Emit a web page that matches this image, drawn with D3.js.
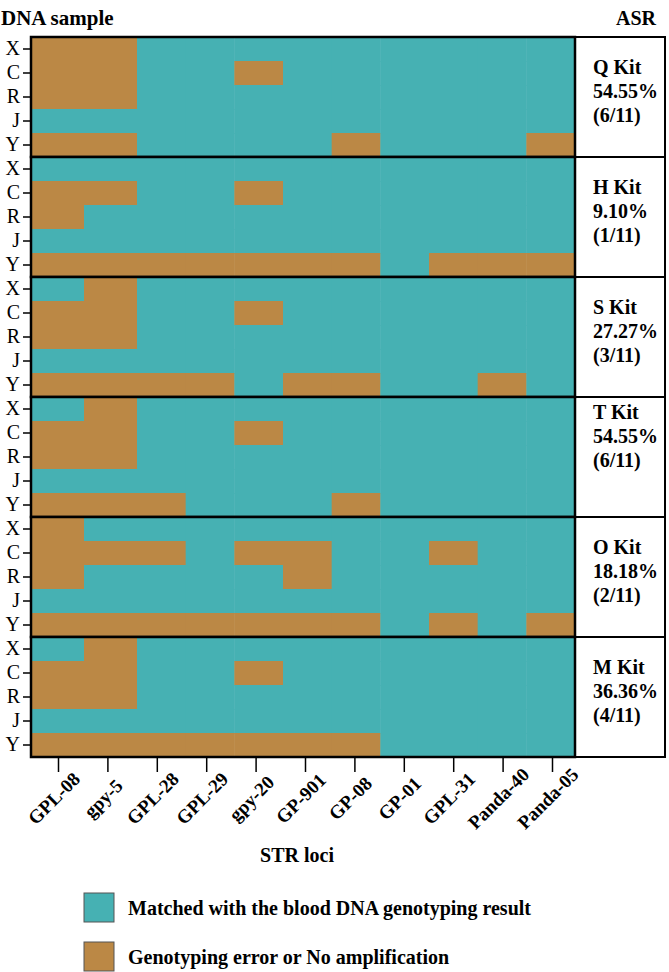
<!DOCTYPE html>
<html>
<head>
<meta charset="utf-8">
<script src="https://cdn.jsdelivr.net/npm/d3@7"></script>
<style>
  body { margin: 0; background: #fff; }
  text { font-family: "Liberation Serif", "Times New Roman", serif; }
</style>
</head>
<body>
<div id="chart"></div>
<script>
// 数据
const kits = ["Q Kit", "H Kit", "S Kit", "T Kit", "O Kit", "M Kit"]
const asr = ["54.55%", "9.10%", "27.27%", "54.55%", "18.18%", "36.36%"]
const asrCount = ["(6/11)", "(1/11)", "(3/11)", "(6/11)", "(2/11)", "(4/11)"]
const samples = ["X", "C", "R", "J", "Y"]
const loci = ["GPL-08", "gpy-5", "GPL-28", "GPL-29", "gpy-20", "GP-901", "GP-08", "GP-01", "GPL-31", "Panda-40", "Panda-05"]
const legendLabels = ["Matched with the blood DNA genotyping result", "Genotyping error or No amplification"]

// 1 = genotyping error / no amplification, 0 = matched
const qKit = [
    [1, 1, 0, 0, 0, 0, 0, 0, 0, 0, 0],
    [1, 1, 0, 0, 1, 0, 0, 0, 0, 0, 0],
    [1, 1, 0, 0, 0, 0, 0, 0, 0, 0, 0],
    [0, 0, 0, 0, 0, 0, 0, 0, 0, 0, 0],
    [1, 1, 0, 0, 0, 0, 1, 0, 0, 0, 1]
]
const hKit = [
    [0, 0, 0, 0, 0, 0, 0, 0, 0, 0, 0],
    [1, 1, 0, 0, 1, 0, 0, 0, 0, 0, 0],
    [1, 0, 0, 0, 0, 0, 0, 0, 0, 0, 0],
    [0, 0, 0, 0, 0, 0, 0, 0, 0, 0, 0],
    [1, 1, 1, 1, 1, 1, 1, 0, 1, 1, 1]
]
const sKit = [
    [0, 1, 0, 0, 0, 0, 0, 0, 0, 0, 0],
    [1, 1, 0, 0, 1, 0, 0, 0, 0, 0, 0],
    [1, 1, 0, 0, 0, 0, 0, 0, 0, 0, 0],
    [0, 0, 0, 0, 0, 0, 0, 0, 0, 0, 0],
    [1, 1, 1, 1, 0, 1, 1, 0, 0, 1, 0]
]
const tKit = [
    [0, 1, 0, 0, 0, 0, 0, 0, 0, 0, 0],
    [1, 1, 0, 0, 1, 0, 0, 0, 0, 0, 0],
    [1, 1, 0, 0, 0, 0, 0, 0, 0, 0, 0],
    [0, 0, 0, 0, 0, 0, 0, 0, 0, 0, 0],
    [1, 1, 1, 0, 0, 0, 1, 0, 0, 0, 0]
]
const oKit = [
    [1, 0, 0, 0, 0, 0, 0, 0, 0, 0, 0],
    [1, 1, 1, 0, 1, 1, 0, 0, 1, 0, 0],
    [1, 0, 0, 0, 0, 1, 0, 0, 0, 0, 0],
    [0, 0, 0, 0, 0, 0, 0, 0, 0, 0, 0],
    [1, 1, 1, 1, 1, 1, 1, 0, 1, 0, 1]
]
const mKit = [
    [0, 1, 0, 0, 0, 0, 0, 0, 0, 0, 0],
    [1, 1, 0, 0, 1, 0, 0, 0, 0, 0, 0],
    [1, 1, 0, 0, 0, 0, 0, 0, 0, 0, 0],
    [0, 0, 0, 0, 0, 0, 0, 0, 0, 0, 0],
    [1, 1, 1, 1, 1, 1, 1, 0, 0, 0, 0]
]
const kitData = [qKit, hKit, sKit, tKit, oKit, mKit]

const width = 669
const height = 972
const color = ['#46b1b3', '#bb8845']
const font = '"Liberation Serif", "Times New Roman", serif'

const mapLeft = 31, mapRight = 575, mapTop = 37, mapBottom = 757
const panelRight = 665

const svg = d3.select('#chart').append('svg')
    .attr('width', width)
    .attr('height', height)
    .attr('viewBox', `0 0 ${width} ${height}`)

// 原图前两列比后面的列宽一点，刻度却是等距的，所以格子和刻度用两个比例尺
const xCell = d3.scaleLinear().domain([0, 2, loci.length]).range([mapLeft, 137, mapRight])
const xTick = d3.scalePoint().domain(loci).range([58, 552])
const yKit = d3.scaleBand().domain(kits).range([mapTop, mapBottom])
const yRow = d3.scaleBand().domain(samples).range([0, yKit.bandwidth()])

// 每个试剂盒一块
kits.forEach((kit, k) => {
    const g = svg.append('g').attr('transform', `translate(0, ${yKit(kit)})`)
    const cells = []
    kitData[k].forEach((row, r) => row.forEach((v, c) => cells.push({ r: samples[r], c, v })))

    g.selectAll('rect.cell')
        .data(cells)
        .join('rect')
        .attr('class', 'cell')
        .attr('x', d => xCell(d.c))
        .attr('y', d => yRow(d.r))
        .attr('width', d => xCell(d.c + 1) - xCell(d.c) + 0.5)
        .attr('height', yRow.bandwidth() + 0.5)
        .attr('fill', d => color[d.v])

    // 左侧样本轴
    g.append('g')
        .attr('transform', `translate(${mapLeft}, 0)`)
        .call(d3.axisLeft(yRow).tickSize(8).tickPadding(3))
        .call(g => g.select('.domain').remove())
        .call(g => g.selectAll('line').attr('stroke', '#000').attr('stroke-width', 1.5))
        .call(g => g.selectAll('text')
            .attr('font-family', font)
            .attr('font-size', 20)
            .attr('fill', '#000'))

    // 右侧 ASR 文字
    const bh = yKit.bandwidth()
    const mid = kit === 'T Kit' ? 46 : bh / 2 + 1
    const lines = [kit, asr[k], asrCount[k]]
    g.append('g').selectAll('text')
        .data(lines)
        .join('text')
        .attr('x', mapRight + 18)
        .attr('y', (d, i) => mid + (i - 1) * 24)
        .attr('font-family', font)
        .attr('font-size', 20)
        .attr('font-weight', 'bold')
        .text(d => d)

    // 边框
    g.append('rect')
        .attr('x', mapLeft)
        .attr('y', 0)
        .attr('width', mapRight - mapLeft)
        .attr('height', bh)
        .attr('fill', 'none')
        .attr('stroke', '#000')
        .attr('stroke-width', 2.5)
    g.append('rect')
        .attr('x', mapRight)
        .attr('y', 0)
        .attr('width', panelRight - mapRight)
        .attr('height', bh)
        .attr('fill', 'none')
        .attr('stroke', '#000')
        .attr('stroke-width', 2)
})

// 底部位点轴
svg.append('g')
    .attr('transform', `translate(0, ${mapBottom})`)
    .call(d3.axisBottom(xTick).tickSize(15).tickPadding(0))
    .call(g => g.select('.domain').remove())
    .call(g => g.selectAll('line').attr('stroke', '#000').attr('stroke-width', 1.5))
    .call(g => g.selectAll('text')
        .attr('font-family', font)
        .attr('font-size', 19)
        .attr('font-weight', 'bold')
        .attr('fill', '#000')
        .attr('text-anchor', 'middle')
        .attr('dy', 0)
        .attr('y', 0)
        .attr('transform', 'translate(0, 46) rotate(-45)'))

svg.append('text')
    .attr('x', 297)
    .attr('y', 862)
    .attr('text-anchor', 'middle')
    .attr('font-family', font)
    .attr('font-size', 20)
    .attr('font-weight', 'bold')
    .text('STR loci')

svg.append('text')
    .attr('x', 1)
    .attr('y', 25)
    .attr('font-family', font)
    .attr('font-size', 21)
    .attr('font-weight', 'bold')
    .text('DNA sample')

svg.append('text')
    .attr('x', 636)
    .attr('y', 25)
    .attr('text-anchor', 'middle')
    .attr('font-family', font)
    .attr('font-size', 20)
    .attr('font-weight', 'bold')
    .text('ASR')

// 图例
const legend = svg.append('g')
    .selectAll('g')
    .data(legendLabels)
    .join('g')
    .attr('transform', (d, i) => `translate(84, ${893 + i * 49})`)
legend.append('rect')
    .attr('width', 30)
    .attr('height', 29)
    .attr('fill', (d, i) => color[i])
    .attr('stroke', '#555')
    .attr('stroke-width', 1)
legend.append('text')
    .attr('x', 44)
    .attr('y', 22)
    .attr('font-family', font)
    .attr('font-size', 20)
    .attr('font-weight', 'bold')
    .text(d => d)
</script>
</body>
</html>
